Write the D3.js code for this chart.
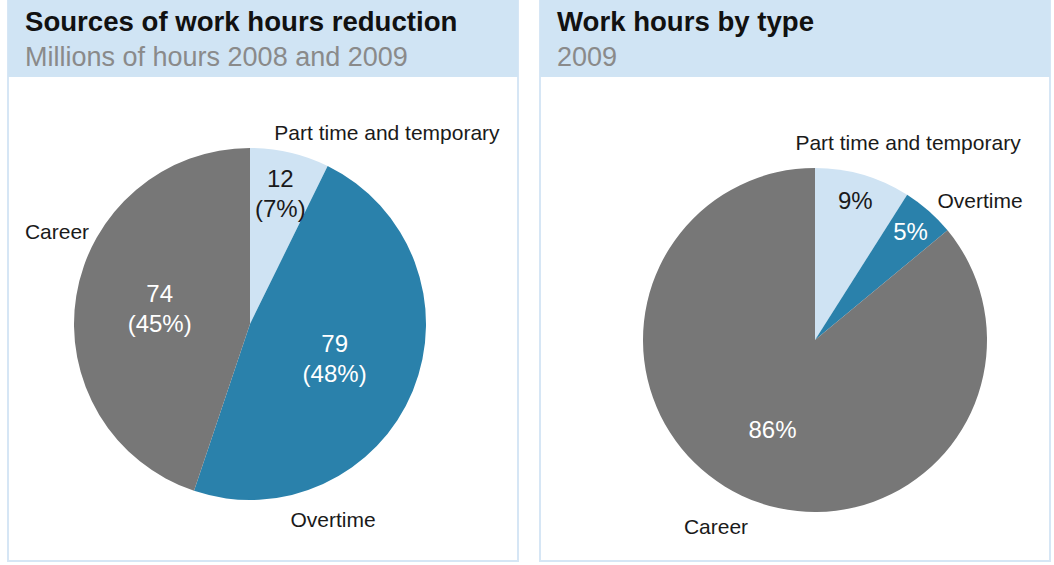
<!DOCTYPE html>
<meta charset="utf-8">
<style>
body { margin: 0; background: #fff; }
svg { display: block; font-family: "Liberation Sans", Arial, sans-serif; }
.title { font-weight: bold; font-size: 27.6px; fill: #111; }
.subtitle { font-size: 27px; fill: #8a8a8a; }
.lbl { font-size: 21px; fill: #1a1a1a; }
.val { font-size: 24px; }
</style>
<svg width="1054" height="565"></svg>
<script src="https://cdn.jsdelivr.net/npm/d3@7"></script>
<script>
// data
var categories = ["Part time and temporary", "Overtime", "Career"];
var reductionHours = [12, 79, 74];
var reductionPct = [7, 48, 45];
var typePct = [9, 5, 86];
var colors = ["#cfe3f3", "#2a81ab", "#777777"];

var svg = d3.select("svg");

var color = d3.scaleOrdinal().domain(categories).range(colors);

// panel layout
var panels = [
  {x: 8, w: 510, title: "Sources of work hours reduction", sub: "Millions of hours 2008 and 2009",
   cx: 250, cy: 324, r: 176,
   values: reductionHours,
   text: (d, i) => [String(reductionHours[i]), "(" + reductionPct[i] + "%)"],
   // where the outer labels go, relative to the centre
   outer: [[137, -191, "middle"], [83, 196, "middle"], [-193, -92, "middle"]]},
  {x: 540, w: 510, title: "Work hours by type", sub: "2009",
   cx: 815, cy: 340, r: 172,
   values: typePct,
   text: (d, i) => [typePct[i] + "%"],
   outer: [[93, -197, "middle"], [165, -139, "middle"], [-99, 187, "middle"]]}
];

panels.forEach(function(p) {
  var g = svg.append("g");
  g.append("rect")
      .attr("x", p.x).attr("y", 1).attr("width", p.w).attr("height", 560)
      .attr("fill", "#fff").attr("stroke", "#d6e6f5").attr("stroke-width", 2);
  g.append("rect")
      .attr("x", p.x).attr("y", 0).attr("width", p.w).attr("height", 77)
      .attr("fill", "#d0e4f4");
  g.append("text").attr("class", "title").attr("x", p.x + 17).attr("y", 31).text(p.title);
  g.append("text").attr("class", "subtitle").attr("x", p.x + 17).attr("y", 66).text(p.sub);

  var pie = d3.pie().sort(null)(p.values);
  var arc = d3.arc().innerRadius(0).outerRadius(p.r);

  var pg = g.append("g").attr("transform", "translate(" + p.cx + "," + p.cy + ")");
  pg.selectAll("path")
    .data(pie)
    .enter()
    .append("path")
      .attr("d", arc)
      .attr("fill", (d, i) => color(categories[i]));

  // values inside the slices
  var tot = d3.sum(p.values);
  pie.forEach(function(d, i) {
    var share = d.value / tot;
    var k = share < 0.1 ? (p.text(d, i).length > 1 ? 0.76 : 0.84) : (share > 0.6 ? 0.58 : 0.52);
    var lab = d3.arc().innerRadius(p.r * k).outerRadius(p.r * k).centroid(d);
    var lines = p.text(d, i);
    var t = pg.append("text")
        .attr("class", "val")
        .attr("text-anchor", "middle")
        .attr("fill", i === 0 ? "#1a1a1a" : "#fff")
        .attr("x", lab[0])
        .attr("y", lab[1] - (lines.length - 1) * 15 + 8);
    lines.forEach(function(s, j) {
      t.append("tspan").attr("x", lab[0]).attr("dy", j ? 30 : 0).text(s);
    });
  });

  // category names outside
  categories.forEach(function(c, i) {
    var o = p.outer[i];
    pg.append("text")
        .attr("class", "lbl")
        .attr("x", o[0]).attr("y", o[1] + 7)
        .attr("text-anchor", o[2])
        .text(c);
  });
});
</script>
